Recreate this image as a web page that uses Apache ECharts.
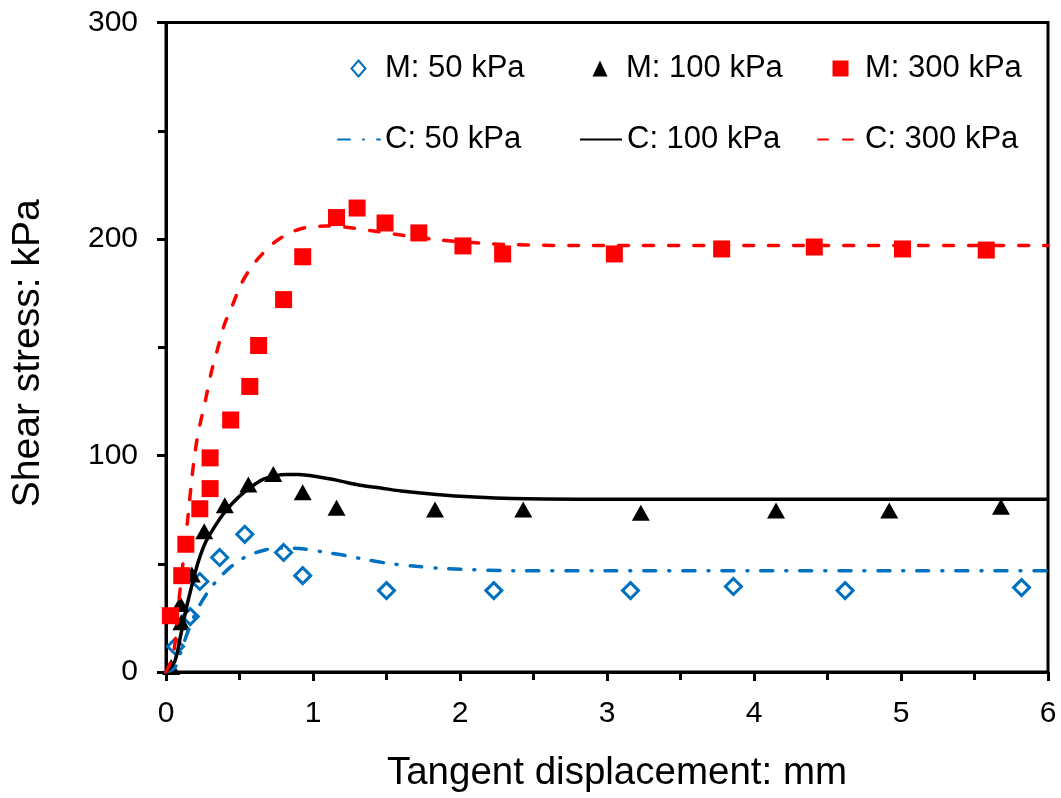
<!DOCTYPE html>
<html><head><meta charset="utf-8">
<script src="https://cdn.jsdelivr.net/npm/echarts@6/dist/echarts.min.js"></script>
<style>html,body{margin:0;padding:0;background:#fff}#c{width:1061px;height:798px}</style>
</head><body><div id="c"></div>
<script>
// Tick values
const xTickValues = [0, 1, 2, 3, 4, 5, 6];
const yTickValues = [0, 100, 200, 300];

// Measured data (M) – [displacement mm, shear stress kPa]
const m50 = [[0.065,11.8],[0.165,25.6],[0.23,41.8],[0.365,52.9],[0.536,63.6],[0.80,55.2],[0.93,44.5],[1.50,37.6],[2.23,37.6],[3.16,37.6],[3.86,39.5],[4.62,37.6],[5.82,39.0]];
const m100 = [[0.035,2.3],[0.104,23],[0.097,31.4],[0.176,45],[0.26,65],[0.40,77],[0.56,86.6],[0.73,91.5],[0.93,83],[1.16,75.9],[1.83,75.1],[2.43,75.1],[3.23,73.6],[4.15,74.6],[4.92,74.6],[5.68,76.3]];
const m300 = [[0.03,26],[0.107,44.5],[0.135,59],[0.23,75.4],[0.30,84.7],[0.30,98.9],[0.44,116.4],[0.57,131.9],[0.63,150.8],[0.80,172],[0.93,191.8],[1.16,209.9],[1.30,214.3],[1.49,207.4],[1.72,202.8],[2.02,196.8],[2.29,193.1],[3.05,193.1],[3.78,195.4],[4.41,196.3],[5.01,195.4],[5.58,194.9]];

// Calculated curves (C)
const c50 = [[0,0],[0.06,2],[0.10,9],[0.14,17],[0.18,24],[0.23,31],[0.30,38.5],[0.35,42.5],[0.43,48],[0.50,51.5],[0.56,53.8],[0.68,56.5],[0.80,57.3],[0.94,56.8],[1.08,55.3],[1.23,53.7],[1.34,52.2],[1.50,50.3],[1.70,48.8],[1.90,47.8],[2.35,46.8],[3.0,46.8],[4.0,46.8],[5.0,46.8],[6.0,46.8]];
const c100 = [[0,0],[0.06,5],[0.10,17],[0.14,30],[0.18,41],[0.22,51],[0.27,60],[0.33,67],[0.39,73],[0.46,78.5],[0.53,83],[0.60,86.5],[0.66,89],[0.74,90.6],[0.82,91.2],[0.90,91.2],[0.96,90.9],[1.05,90],[1.14,88.9],[1.23,87.5],[1.32,86.3],[1.46,85],[1.60,83.6],[1.84,82],[2.10,80.8],[2.35,80.1],[2.80,79.8],[4.0,79.8],[5.0,79.8],[6.0,79.8]];
const c300 = [[0,0],[0.05,8],[0.08,28],[0.115,50],[0.15,72],[0.18,92],[0.21,107],[0.24,117],[0.27,126],[0.31,139],[0.35,149],[0.40,161],[0.45,169],[0.51,179],[0.57,186],[0.64,192],[0.73,198],[0.82,202],[0.93,205],[1.09,206],[1.23,205.4],[1.40,203.8],[1.60,201.8],[1.80,200],[2.00,198.8],[2.30,197.5],[2.80,197],[4.0,197],[5.0,197],[6.0,197]];

const FONT = 'Liberation Sans, Arial, sans-serif';
const BLUE = '#0070C0', RED = '#FF0000', BLACK = '#000000';

function legendAt(name, left, top, w, h, padLeft, hideSymbol) {
  const lg = {
    data: [name], left: left, top: top, orient: 'horizontal',
    itemWidth: w, itemHeight: h, itemGap: 0, padding: 0,
    selectedMode: false,
    textStyle: { fontFamily: FONT, fontSize: 31, color: BLACK, padding: [0, 0, 0, padLeft] }
  };
  if (hideSymbol) lg.itemStyle = { opacity: 0 };
  return lg;
}

const chart = echarts.init(document.getElementById('c'), null, { renderer: 'canvas' });
const option = {
  animation: false,
  backgroundColor: '#fff',
  grid: { left: 166, right: 13, top: 22.5, bottom: 123, show: true, borderColor: BLACK, borderWidth: 3, backgroundColor: 'transparent' },
  legend: [
    legendAt('M: 50 kPa', 350.5, 53, 14, 16, 14.5, false),
    legendAt('M: 100 kPa', 592.5, 53, 15, 16, 13.5, false),
    legendAt('M: 300 kPa', 832.5, 53, 16, 16, 11.5, false),
    legendAt('C: 50 kPa', 337, 124, 42, 16, 0, true),
    legendAt('C: 100 kPa', 579, 124, 42, 16, 0, true),
    legendAt('C: 300 kPa', 817, 124, 42, 16, 0, true)
  ],
  xAxis: {
    type: 'value',
    min: xTickValues[0], max: xTickValues[xTickValues.length - 1],
    interval: xTickValues[1] - xTickValues[0],
    name: 'Tangent displacement: mm', nameLocation: 'middle', nameGap: 82,
    nameTextStyle: { fontFamily: FONT, fontSize: 38.5, color: BLACK, padding: [0, 0, 0, 20] },
    axisLine: { show: true, onZero: false, lineStyle: { color: BLACK, width: 3 } },
    axisTick: { show: true, inside: false, length: 9, lineStyle: { color: BLACK, width: 3 } },
    minorTick: { show: true, splitNumber: 2, length: 8, lineStyle: { color: BLACK, width: 3 } },
    axisLabel: { fontFamily: FONT, fontSize: 30, color: BLACK, margin: 27 },
    splitLine: { show: false }
  },
  yAxis: {
    type: 'value',
    min: yTickValues[0], max: yTickValues[yTickValues.length - 1],
    interval: yTickValues[1] - yTickValues[0],
    name: 'Shear stress: kPa', nameLocation: 'middle', nameGap: 118, nameRotate: 90,
    nameTextStyle: { fontFamily: FONT, fontSize: 39, color: BLACK, padding: [0, 12, 0, 0] },
    axisLine: { show: true, onZero: false, lineStyle: { color: BLACK, width: 3 } },
    axisTick: { show: true, inside: false, length: 9, lineStyle: { color: BLACK, width: 3 } },
    minorTick: { show: true, splitNumber: 2, length: 8, lineStyle: { color: BLACK, width: 3 } },
    axisLabel: { fontFamily: FONT, fontSize: 30, color: BLACK, margin: 28 },
    splitLine: { show: false }
  },
  series: [
    { name: 'M: 50 kPa', type: 'scatter', data: m50, symbol: 'diamond', symbolSize: 16,
      itemStyle: { color: 'rgba(255,255,255,0)', borderColor: BLUE, borderWidth: 3, opacity: 1 }, z: 3 },
    { name: 'M: 100 kPa', type: 'scatter', data: m100, symbol: 'triangle', symbolSize: [18, 16],
      itemStyle: { color: BLACK, opacity: 1 }, z: 3 },
    { name: 'M: 300 kPa', type: 'scatter', data: m300, symbol: 'rect', symbolSize: 17,
      itemStyle: { color: RED, opacity: 1 }, z: 3 },
    { name: 'C: 50 kPa', type: 'line', data: c50, smooth: 0.3, showSymbol: false, symbol: 'none',
      lineStyle: { color: BLUE, width: 3.5, type: [12, 13, 1, 13], cap: 'round' }, itemStyle: { color: BLUE }, z: 4 },
    { name: 'C: 100 kPa', type: 'line', data: c100, smooth: 0.3, showSymbol: false, symbol: 'none',
      lineStyle: { color: BLACK, width: 3.5, type: 'solid' }, itemStyle: { color: BLACK }, z: 4 },
    { name: 'C: 300 kPa', type: 'line', data: c300, smooth: 0.3, showSymbol: false, symbol: 'none',
      lineStyle: { color: RED, width: 3.5, type: [10, 15], cap: 'round' }, itemStyle: { color: RED }, z: 4 }
  ]
};
chart.setOption(option);
</script>
</body></html>
